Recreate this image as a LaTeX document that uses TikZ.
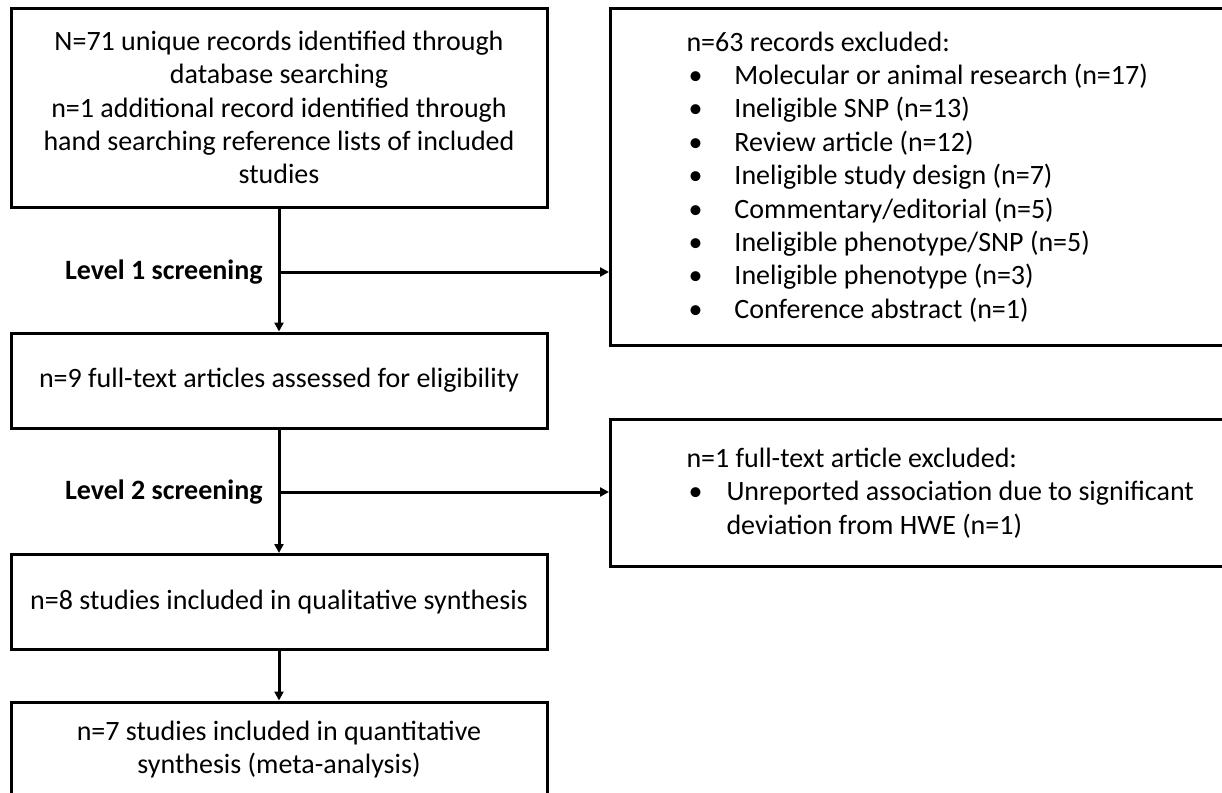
\documentclass[tikz,border=0pt]{standalone}
\usepackage{fontspec}
\setmainfont{Carlito}
\usetikzlibrary{arrows.meta}

\newcommand{\blt}[1]{\makebox[#1][l]{\hspace{1pt}\textbullet}}

\begin{document}
\begin{tikzpicture}[x=0.5pt, y=-0.5pt,
    box/.style={draw, line width=1.5pt, minimum width=268pt, minimum height=47.5pt,
        align=center, inner sep=0pt, font=\fontsize{14}{16.6}\selectfont},
    xbox/.style={draw, line width=1.5pt, anchor=north west, minimum width=336pt,
        text width=260pt, align=left, inner sep=0pt, font=\fontsize{14}{16.7}\selectfont,
        execute at begin node={\spaceskip=0pt\xspaceskip=0pt}},
    lvl/.style={anchor=east, inner sep=0pt, font=\bfseries\fontsize{14}{16.7}\selectfont},
    arr/.style={line width=1.5pt, -{Triangle[length=4.5pt,width=4.5pt]}}]

    \useasboundingbox (0,0) rectangle (1222,793);
    \clip (0,0) rectangle (1222,793);

    \def\xc{279}

    % --- Left column ---
    \node[box, minimum height=99.5pt] (rec) at (\xc,107.5)
        {N=71 unique records identified through\\ database searching\\
         n=1 additional record identified through\\
         hand searching reference lists of included\\ studies};
    \node[box] (full) at (\xc,380.5) {n=9 full-text articles assessed for eligibility};
    \node[box] (qual) at (\xc,602) {n=8 studies included in qualitative synthesis};
    \node[box] (quant) at (\xc,749.5)
        {n=7 studies included in quantitative\\ synthesis (meta-analysis)};

    % --- Exclusion boxes ---
    \node[xbox, minimum height=168.5pt] (excl1) at (609,7)
        {n=63 records excluded:\\
         \blt{24pt}Molecular or animal research (n=17)\\
         \blt{24pt}Ineligible SNP (n=13)\\
         \blt{24pt}Review article (n=12)\\
         \blt{24pt}Ineligible study design (n=7)\\
         \blt{24pt}Commentary/editorial (n=5)\\
         \blt{24pt}Ineligible phenotype/SNP (n=5)\\
         \blt{24pt}Ineligible phenotype (n=3)\\
         \blt{24pt}Conference abstract (n=1)};
    \node[xbox, minimum height=73.5pt] (excl2) at (609,418)
        {n=1 full-text article excluded:\\
         \blt{20pt}Unreported association due to significant\\
         \hspace*{20pt}deviation from HWE (n=1)};

    % --- Screening labels ---
    \coordinate (s1) at (\xc,272);
    \coordinate (s2) at (\xc,492);
    \node[lvl] (lv1) at (263,272) {Level 1 screening};
    \node[lvl] (lv2) at (263,492) {Level 2 screening};

    % --- Arrows ---
    \draw[arr] (rec) -- (full);
    \draw[arr] (full) -- (qual);
    \draw[arr] (qual) -- (quant);
    \draw[arr] (s1) -- (s1 -| excl1.west);
    \draw[arr] (s2) -- (s2 -| excl2.west);

\end{tikzpicture}
\end{document}
